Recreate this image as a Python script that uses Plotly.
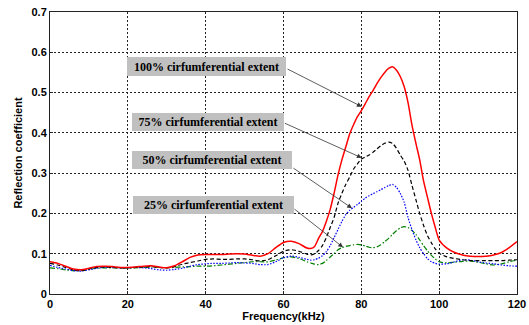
import plotly.graph_objects as go

freq = list(range(0, 66, 2)) + list(range(66, 101)) + list(range(102, 121, 2))

ext_100 = [0.080, 0.076, 0.069, 0.062, 0.060, 0.064, 0.068, 0.069, 0.068, 0.066,
           0.066, 0.067, 0.069, 0.070, 0.067, 0.065, 0.070, 0.080, 0.091, 0.097,
           0.098, 0.098, 0.098, 0.099, 0.100, 0.099, 0.096, 0.094, 0.100, 0.115,
           0.128, 0.131, 0.125,
           0.114, 0.113, 0.118, 0.138, 0.155, 0.180, 0.210, 0.250, 0.295, 0.333,
           0.365, 0.397, 0.420, 0.440, 0.455, 0.472, 0.490, 0.505, 0.522, 0.537,
           0.550, 0.560, 0.564, 0.556, 0.540, 0.515, 0.475, 0.420, 0.375, 0.333,
           0.280, 0.240, 0.200, 0.165, 0.134,
           0.114, 0.103, 0.097, 0.094, 0.093, 0.094, 0.097, 0.103, 0.115, 0.130]

ext_75 = [0.076, 0.072, 0.066, 0.060, 0.058, 0.062, 0.066, 0.067, 0.066, 0.065,
          0.065, 0.066, 0.067, 0.068, 0.066, 0.065, 0.068, 0.074, 0.078, 0.082,
          0.086, 0.087, 0.086, 0.086, 0.087, 0.087, 0.085, 0.082, 0.085, 0.095,
          0.106, 0.110, 0.106,
          0.099, 0.097, 0.100, 0.108, 0.120, 0.140, 0.165, 0.190, 0.225, 0.250,
          0.272, 0.290, 0.310, 0.323, 0.335, 0.340, 0.345, 0.352, 0.360, 0.368,
          0.374, 0.377, 0.374, 0.362, 0.345, 0.330, 0.307, 0.270, 0.235, 0.200,
          0.170, 0.145, 0.127, 0.112, 0.101,
          0.092, 0.088, 0.085, 0.083, 0.083, 0.083, 0.083, 0.083, 0.084, 0.085]

ext_50 = [0.071, 0.066, 0.062, 0.058, 0.057, 0.060, 0.064, 0.066, 0.066, 0.065,
          0.065, 0.066, 0.065, 0.063, 0.060, 0.059, 0.061, 0.064, 0.069, 0.073,
          0.075, 0.076, 0.076, 0.077, 0.078, 0.077, 0.076, 0.073, 0.073, 0.080,
          0.090, 0.094, 0.091,
          0.086, 0.084, 0.085, 0.089, 0.095, 0.105, 0.120, 0.140, 0.160, 0.180,
          0.197, 0.208, 0.215, 0.222, 0.230, 0.238, 0.244, 0.249, 0.254, 0.259,
          0.264, 0.269, 0.272, 0.265, 0.250, 0.228, 0.190, 0.160, 0.135, 0.115,
          0.100, 0.088, 0.080, 0.076, 0.074,
          0.075, 0.080, 0.085, 0.084, 0.080, 0.077, 0.075, 0.072, 0.070, 0.069]

ext_25 = [0.065, 0.063, 0.060, 0.058, 0.058, 0.061, 0.064, 0.065, 0.065, 0.064,
          0.064, 0.065, 0.066, 0.067, 0.066, 0.065, 0.066, 0.067, 0.068, 0.069,
          0.069, 0.070, 0.072, 0.074, 0.076, 0.078, 0.080, 0.080, 0.080, 0.084,
          0.090, 0.092, 0.088,
          0.080, 0.077, 0.074, 0.073, 0.076, 0.083, 0.092, 0.100, 0.110, 0.115,
          0.118, 0.120, 0.122, 0.123, 0.122, 0.119, 0.116, 0.115, 0.117, 0.122,
          0.130, 0.138, 0.148, 0.157, 0.164, 0.167, 0.165, 0.158, 0.148, 0.134,
          0.120, 0.107, 0.096, 0.087, 0.080,
          0.077, 0.079, 0.081, 0.082, 0.079, 0.075, 0.072, 0.075, 0.080, 0.084]

labels = ["100% cirfumferential extent", "75% cirfumferential extent",
          "50% cirfumferential extent", "25% cirfumferential extent"]
x_ticks = [0, 20, 40, 60, 80, 100, 120]
y_ticks = [0, 0.1, 0.2, 0.3, 0.4, 0.5, 0.6, 0.7]
y_tick_text = ["0", "0.1", "0.2", "0.3", "0.4", "0.5", "0.6", "0.7"]

fig = go.Figure()
series = [
    (ext_25, "#008000", "5px,2px,1.5px,2px", 1.2),
    (ext_50, "#0000ff", "1.5px,1.5px", 1.2),
    (ext_75, "#000000", "4px,2.5px", 1.2),
    (ext_100, "#ff0000", "solid", 1.5),
]
for vals, col, dash, w in series:
    fig.add_trace(go.Scatter(x=freq, y=vals, mode="lines",
                             line=dict(color=col, dash=dash, width=w, shape="spline", smoothing=0.6),
                             showlegend=False))

# text boxes: (left x, center y, box width, box height)
boxes = [(19.8, 0.5645, 159, 19), (21.0, 0.426, 152, 18), (21.0, 0.333, 160, 18), (21.2, 0.221, 161, 18)]
for lab, (bx, by, bw, bh) in zip(labels, boxes):
    fig.add_annotation(x=bx, y=by, xref="x", yref="y", xanchor="left", yanchor="middle",
                       text="<b>" + lab + "</b>", showarrow=False, bgcolor="#c0c0c0",
                       borderpad=2, borderwidth=0, width=bw - 4, height=bh - 4, align="center",
                       font=dict(family="Liberation Serif", size=12, color="#000000"))

# arrows: head (data), tail offset (px)
arrows = [(80.1, 0.465, -75.7, -38.4), (80.1, 0.338, -78.4, -35.3),
          (77.6, 0.213, -60, -41), (75.3, 0.116, -50, -39.3)]
for hx, hy, ax, ay in arrows:
    fig.add_annotation(x=hx, y=hy, xref="x", yref="y", ax=ax, ay=ay, text="",
                       showarrow=True, arrowhead=2, arrowsize=1.2, arrowwidth=0.8,
                       arrowcolor="#333333", standoff=0, startstandoff=0)

axis_font = dict(family="Liberation Sans", size=11, color="#000000")
fig.update_layout(
    width=529, height=325,
    margin=dict(l=50, r=12, t=12, b=31, autoexpand=False),
    paper_bgcolor="white", plot_bgcolor="white",
    xaxis=dict(range=[0, 120], tickvals=x_ticks, ticktext=["<b>%d</b>" % v for v in x_ticks],
               showgrid=True, gridcolor="#222222", griddash="2px,2px", gridwidth=1,
               showline=True, linecolor="#222222", linewidth=1, mirror=True,
               ticks="inside", ticklen=3, tickcolor="#222222", zeroline=False,
               tickfont=axis_font, automargin=False,
               title=dict(text="<b>Frequency(kHz)</b>", standoff=2,
                          font=dict(family="Liberation Sans", size=11, color="#000000"))),
    yaxis=dict(range=[0, 0.7], tickvals=y_ticks, ticktext=["<b>%s</b>" % t for t in y_tick_text],
               showgrid=True, gridcolor="#222222", griddash="2px,2px", gridwidth=1,
               showline=True, linecolor="#222222", linewidth=1, mirror=True,
               ticks="inside", ticklen=3, tickcolor="#222222", zeroline=False,
               tickfont=axis_font, automargin=False,
               title=dict(text="<b>Reflection coefficient</b>", standoff=6,
                          font=dict(family="Liberation Sans", size=11, color="#000000"))),
)

fig.write_html("out.html", config={"displayModeBar": False},
               post_script="document.body.style.margin='0px';")
